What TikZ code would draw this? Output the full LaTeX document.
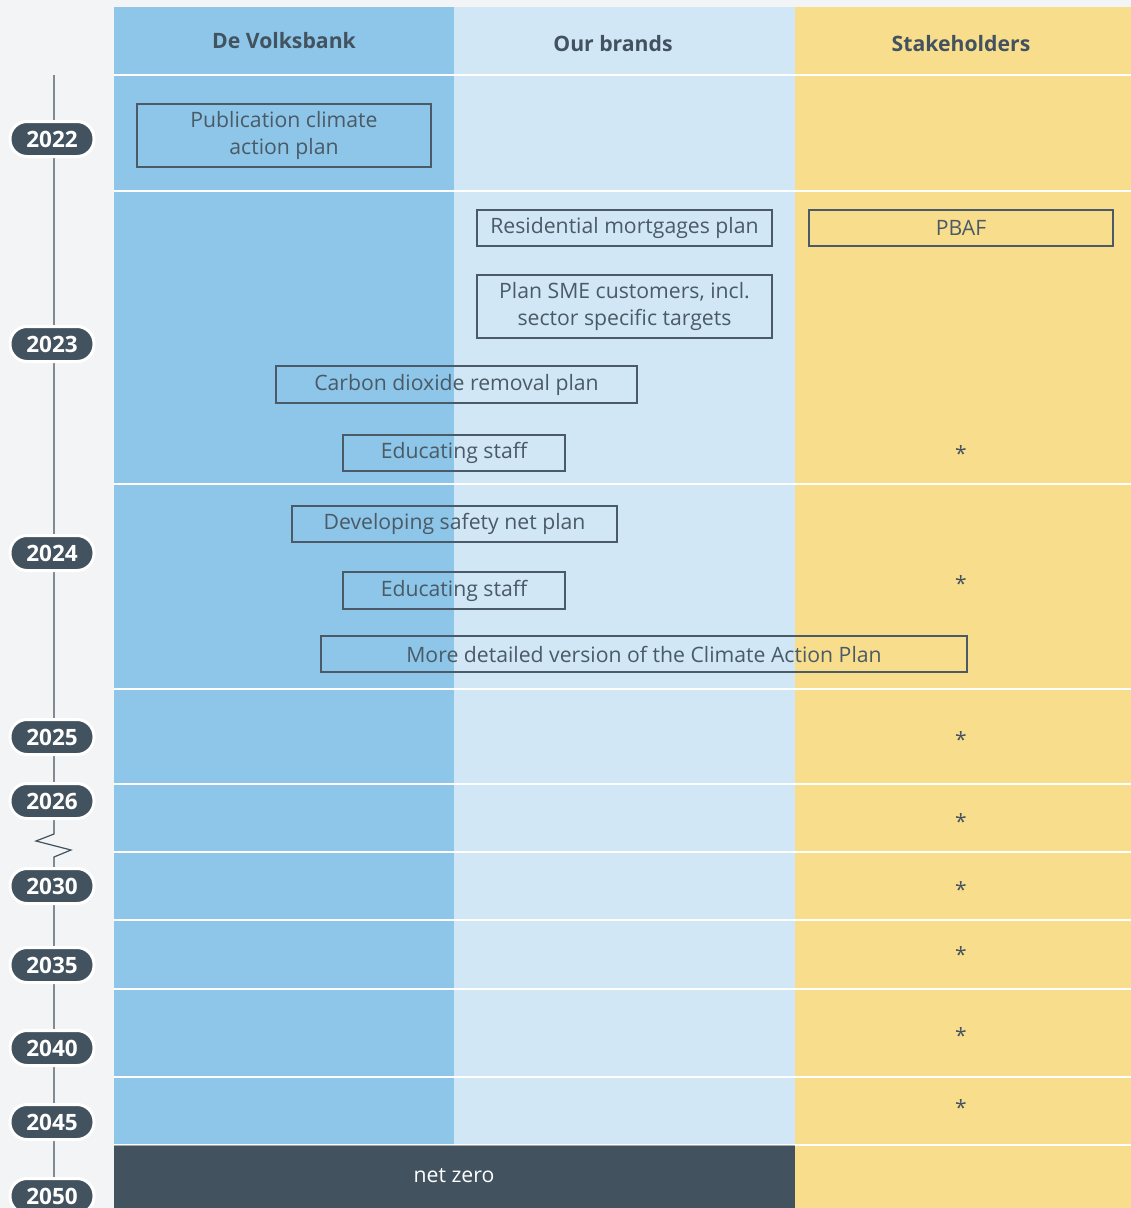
\documentclass[tikz,border=0pt]{standalone}
\usepackage{fontspec}
\setmainfont{Open Sans}
\definecolor{bg}{HTML}{F3F4F6}
\definecolor{colA}{HTML}{8DC6E8}
\definecolor{colB}{HTML}{D1E7F5}
\definecolor{colC}{HTML}{F8DE8C}
\definecolor{dark}{HTML}{42525F}
\definecolor{boxline}{HTML}{4A5A66}
\begin{document}
\begin{tikzpicture}[x=1pt,y=-1pt,
  plan/.style={draw=boxline,line width=1.2pt,text=boxline,font=\fontsize{21.2}{27}\selectfont,align=center,inner sep=0pt},
  head/.style={text=dark,font=\fontsize{21.2}{24}\selectfont\bfseries},
  pill/.style={draw=white,line width=3pt,fill=dark,text=white,rounded corners=17pt,minimum width=84pt,minimum height=35pt,inner sep=0pt,font=\fontsize{22.5}{24}\selectfont\bfseries},
  star/.style={text=dark,font=\fontsize{21}{24}\selectfont},
  rowline/.style={white,line width=1.3pt}]
\useasboundingbox (0,0) rectangle (1131,1208);
\fill[bg] (0,0) rectangle (1131,1208);
% columns
\fill[colA] (114,7) rectangle (454,1208);
\fill[colB] (454,7) rectangle (795,1208);
\fill[colC] (795,7) rectangle (1131,1208);
% row lines
\foreach \yy in {75,191,484,689,784,852,920,989,1077,1145}
  \draw[rowline] (114,\yy) -- (1131,\yy);
% net zero bar
\fill[dark] (114,1145) rectangle (795,1208);
\draw[gray!70,line width=1pt] (114,1145) -- (795,1145);
\node[text=white,font=\fontsize{21.2}{24}\selectfont] (nz) at (454,1176) {net zero};
% headers
\node[head] (h1) at (284,41) {De Volksbank};
\node[head] (h2) at (613,44) {Our brands};
\node[head] (h3) at (961,44) {Stakeholders};
% plan boxes
\node[plan,minimum width=294pt,minimum height=63pt] (p1) at (284,135.5) {Publication climate\\action plan};
\node[plan,minimum width=295pt,minimum height=36pt] (p2) at (624.5,228) {Residential mortgages plan};
\node[plan,minimum width=304pt,minimum height=36pt] (p3) at (961,228) {PBAF};
\node[plan,minimum width=295pt,minimum height=63pt] (p4) at (624.5,306.5) {Plan SME customers, incl.\\sector specific targets};
\node[plan,minimum width=361pt,minimum height=37pt] (p5) at (456.5,384.5) {Carbon dioxide removal plan};
\node[plan,minimum width=222pt,minimum height=36pt] (p6) at (454,453) {Educating staff};
\node[plan,minimum width=325pt,minimum height=36pt] (p7) at (454.5,524) {Developing safety net plan};
\node[plan,minimum width=222pt,minimum height=37pt] (p8) at (454,590.5) {Educating staff};
\node[plan,minimum width=646pt,minimum height=36pt] (p9) at (644,654) {More detailed version of the Climate Action Plan};
% asterisks
\foreach \yy/\nm in {452/s1,582/s2,738/s3,820/s4,888/s5,953/s6,1034/s7,1106/s8}
  \node[star] (\nm) at (961,\yy+2) {*};
% timeline
\coordinate (t0) at (54,75);
\coordinate (t1) at (54,1208);
\draw[dark,line width=1.2pt] (t0) -- (54,820) -- (54,834) -- (36,841) -- (71,850) -- (54,857) -- (t1);
\foreach \yr/\yy in {2022/139,2023/344,2024/553,2025/737,2026/801,2030/886,2035/965,2040/1048,2045/1122,2050/1196}
  \node[pill] (y\yr) at (52,\yy) {\yr};
\end{tikzpicture}
\end{document}
